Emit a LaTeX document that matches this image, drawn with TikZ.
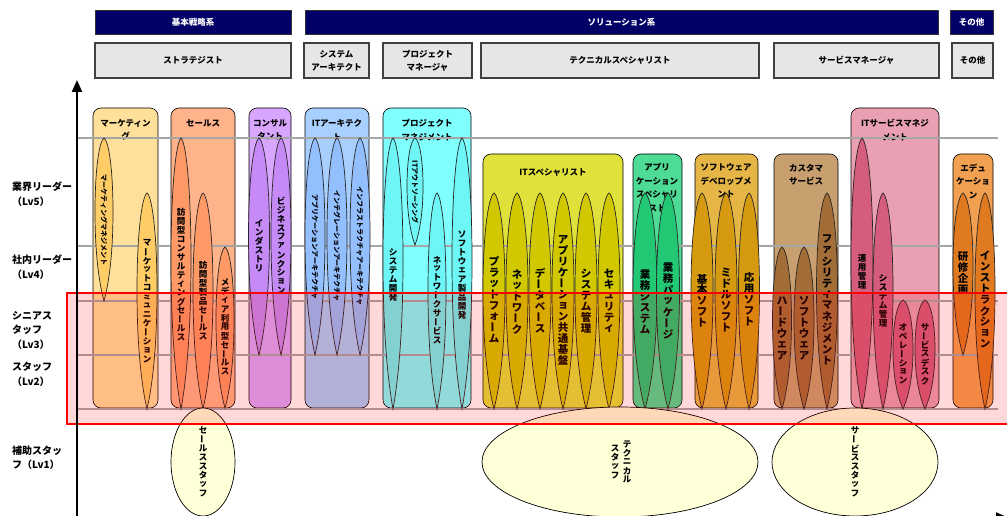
\documentclass[tikz,border=0pt]{standalone}
\usepackage{fontspec}
\setmainfont{Noto Sans CJK JP}
\usetikzlibrary{arrows.meta}

\definecolor{navy}{HTML}{000066}
\definecolor{rolegray}{HTML}{E6E6E6}
\definecolor{lvgray}{HTML}{A6A6A6}
\definecolor{staffyellow}{HTML}{FFFFD8}
\definecolor{mktbox}{HTML}{FFE09A}\definecolor{mktsp}{HTML}{FFCC66}
\definecolor{salbox}{HTML}{FFB38A}\definecolor{salsp}{HTML}{FF9966}
\definecolor{conbox}{HTML}{D9A6FF}\definecolor{consp}{HTML}{C58AF5}
\definecolor{arcbox}{HTML}{A8D0FF}\definecolor{arcsp}{HTML}{94BFFF}
\definecolor{pmbox}{HTML}{80FFFF}\definecolor{pmsp}{HTML}{6EF5F5}
\definecolor{spebox}{HTML}{E1E13C}\definecolor{spesp}{HTML}{D2C800}
\definecolor{aplbox}{HTML}{4DDB95}\definecolor{aplsp}{HTML}{22C874}
\definecolor{devbox}{HTML}{E5B545}\definecolor{devsp}{HTML}{D69A10}
\definecolor{cusbox}{HTML}{C8A070}\definecolor{cussp}{HTML}{A36D38}
\definecolor{itsbox}{HTML}{E8A0B2}\definecolor{itssp}{HTML}{D45C7C}
\definecolor{edubox}{HTML}{F0A050}\definecolor{edusp}{HTML}{E07A20}

% upright vertical text, one glyph per row
\makeatletter
\newcommand\vstack[1]{\vbox{\offinterlineskip\vst@ck#1\@nil}}
\def\vst@ck#1{\ifx#1\@nil\else\vch@r{#1}\expandafter\vst@ck\fi}
\def\vch@r#1{\hbox to 1.15em{\hss\vbox to 1.05em{\vss\hbox{\vglyph{#1}}\vss}\hss}}
\makeatother
\newcommand\vglyph[1]{\ifx ー#1\rotatebox[origin=c]{90}{ー}\else #1\fi}

% pointed column shape: x, top, bottom, half width, fill
\newcommand{\spindle}[5]{%
  \filldraw[spindleshape, fill=#5]
    (#1,#2) .. controls ({#1+0.55*#4},{#2+0.02*(#3-#2)}) and ({#1+#4},{#2+0.2*(#3-#2)}) .. ({#1+#4},{#2+0.45*(#3-#2)})
    .. controls ({#1+#4},{#2+0.75*(#3-#2)}) and ({#1+0.4*#4},{#3-0.08*(#3-#2)}) .. (#1,#3)
    .. controls ({#1-0.4*#4},{#3-0.08*(#3-#2)}) and ({#1-#4},{#2+0.75*(#3-#2)}) .. ({#1-#4},{#2+0.45*(#3-#2)})
    .. controls ({#1-#4},{#2+0.2*(#3-#2)}) and ({#1-0.55*#4},{#2+0.02*(#3-#2)}) .. (#1,#2) -- cycle;}

\tikzset{
  catbar/.style={draw=black!80, fill=navy, text=white, font=\bfseries\fontsize{8.5}{10}\selectfont, minimum height=24pt, inner sep=0pt},
  rolebox/.style={draw=black!75, line width=1.2pt, fill=rolegray, font=\bfseries\fontsize{8.5}{13}\selectfont, minimum height=35pt, align=center, inner sep=0pt},
  areabox/.style={draw=black, line width=0.6pt, rounded corners=8pt},
  arealabel/.style={font=\bfseries\fontsize{8.5}{13.5}\selectfont, align=center, inner sep=0pt},
  levelline/.style={draw=lvgray, line width=2.5pt},
  spindleshape/.style={draw=black!85, line width=0.7pt},
  sptext/.style={font=\bfseries\fontsize{10.5}{10.5}\selectfont, inner sep=0pt},
  spmid/.style={font=\bfseries\fontsize{8.5}{8.5}\selectfont, inner sep=0pt},
  sprot/.style={font=\bfseries\fontsize{7}{8}\selectfont, rotate=-90, inner sep=0pt},
  staffoval/.style={draw=black, line width=0.7pt, fill=staffyellow},
  levellabel/.style={font=\bfseries\fontsize{10}{14.5}\selectfont, align=left, anchor=west, inner sep=0pt},
  axis/.style={line width=2pt, -{Triangle[length=12pt,width=10pt]}}
}

\begin{document}
\begin{tikzpicture}[x=1pt,y=-1pt]
\useasboundingbox (0,0) rectangle (1007,516);

% job categories
\node[catbar, minimum width=196pt] (cat-basic) at (193,22) {基本戦略系};
\node[catbar, minimum width=633pt] (cat-solution) at (621.5,22) {ソリューション系};
\node[catbar, minimum width=43pt] (cat-other) at (971.5,22) {その他};
\node[rolebox, minimum width=196pt] (role-strategist) at (193,60.5) {ストラテジスト};
\node[rolebox, minimum width=65pt] (role-architect) at (336.5,60.5) {システム\\アーキテクト};
\node[rolebox, minimum width=89pt] (role-pm) at (427.5,60.5) {プロジェクト\\マネージャ};
\node[rolebox, minimum width=278pt] (role-tech) at (620,60.5) {テクニカルスペシャリスト};
\node[rolebox, minimum width=165pt] (role-service) at (856.5,60.5) {サービスマネージャ};
\node[rolebox, minimum width=41pt] (role-other) at (972.5,60.5) {その他};

% areas
\filldraw[areabox, fill=mktbox] (93,108) rectangle (158,408);
\filldraw[areabox, fill=salbox] (171,108) rectangle (235,408);
\filldraw[areabox, fill=conbox] (249,108) rectangle (291,408);
\filldraw[areabox, fill=arcbox] (305,108) rectangle (369,408);
\filldraw[areabox, fill=pmbox] (383,108) rectangle (471,408);
\filldraw[areabox, fill=spebox] (483,154) rectangle (623,408);
\filldraw[areabox, fill=aplbox] (633,154) rectangle (682,408);
\filldraw[areabox, fill=devbox] (695,154) rectangle (758,408);
\filldraw[areabox, fill=cusbox] (774,154) rectangle (838,408);
\filldraw[areabox, fill=itsbox] (851,108) rectangle (939,408);
\filldraw[areabox, fill=edubox] (953,154) rectangle (993,408);

\node[arealabel] (lab-mkt) at (125.5,130) {マーケティン\\グ};
\node[arealabel] (lab-sales) at (203,123) {セールス};
\node[arealabel] (lab-cons) at (270,130) {コンサル\\タント};
\node[arealabel] (lab-arch) at (337,130) {ITアーキテク\\ト};
\node[arealabel] (lab-pm) at (427,130) {プロジェクト\\マネジメント};
\node[arealabel] (lab-spec) at (553,173) {ITスペシャリスト};
\node[arealabel] (lab-appl) at (657,187.5) {アプリ\\ケーション\\スペシャリ\\スト};
\node[arealabel] (lab-dev) at (726,181) {ソフトウェア\\デベロップメ\\ント};
\node[arealabel] (lab-cust) at (806,174.5) {カスタマ\\サービス};
\node[arealabel] (lab-itsm) at (895,130) {ITサービスマネジ\\メント};
\node[arealabel] (lab-edu) at (973,181) {エデュ\\ケーショ\\ン};

% level lines
\foreach \y in {138,246,301,355,409}
  \draw[levelline] (77,\y) -- (998,\y);

% columns
\spindle{104}{138}{301}{9}{mktsp}
\spindle{147}{193}{409}{10}{mktsp}
\spindle{181}{138}{409}{10}{salsp}
\spindle{203}{193}{409}{10}{salsp}
\spindle{225}{247}{408}{9}{salsp}
\spindle{259}{138}{355}{10.5}{consp}
\spindle{281}{138}{355}{10}{consp}
\spindle{315}{138}{355}{10}{arcsp}
\spindle{337}{138}{355}{10}{arcsp}
\spindle{360}{138}{355}{10}{arcsp}
\spindle{393}{138}{409}{10}{pmsp}
\spindle{415}{138}{245}{8}{pmsp}
\spindle{437}{193}{409}{9}{pmsp}
\spindle{462}{138}{409}{10}{pmsp}
\spindle{494}{193}{409}{11}{spesp}
\spindle{517}{193}{409}{11}{spesp}
\spindle{540}{193}{409}{11}{spesp}
\spindle{563}{193}{409}{11}{spesp}
\spindle{586}{193}{409}{11}{spesp}
\spindle{609}{193}{409}{11}{spesp}
\spindle{645}{193}{409}{12}{aplsp}
\spindle{668}{193}{409}{11.5}{aplsp}
\spindle{702}{193}{409}{11}{devsp}
\spindle{726}{193}{409}{11}{devsp}
\spindle{749}{193}{409}{10.5}{devsp}
\spindle{782}{247}{409}{9.5}{cussp}
\spindle{804}{247}{409}{10}{cussp}
\spindle{827}{193}{409}{10.5}{cussp}
\spindle{862}{138}{409}{11}{itssp}
\spindle{883}{193}{409}{10}{itssp}
\spindle{903}{300}{409}{10}{itssp}
\spindle{925}{300}{409}{10}{itssp}
\spindle{963}{193}{355}{10}{edusp}
\spindle{985}{193}{409}{10}{edusp}

\node[sprot] (mkt-mgmt) at (104,220) {マーケティングマネジメント};
\node[spmid] (mkt-comm) at (147,301) {\vstack{マーケットコミュニケーション}};
\node[spmid] (sales-consult) at (181,275) {\vstack{訪問型コンサルティングセールス}};
\node[spmid] (sales-product) at (203,301) {\vstack{訪問型製品セールス}};
\node[spmid] (sales-media) at (225,327) {\vstack{メディア利用型セールス}};
\node[spmid] (cons-industry) at (259,246) {\vstack{インダストリ}};
\node[spmid] (cons-business) at (281,246) {\vstack{ビジネスファンクション}};
\node[sprot] (arch-app) at (315,247) {アプリケーションアーキテクチャ};
\node[sprot] (arch-integ) at (337,246) {インテグレーションアーキテクチャ};
\node[sprot] (arch-infra) at (360,246) {インフラストラクチャアーキテクチャ};
\node[spmid] (pm-dev) at (393,275) {\vstack{システム開発}};
\node[sprot] (pm-outsrc) at (415,192) {ITアウトソーシング};
\node[spmid] (pm-network) at (437,300) {\vstack{ネットワークサービス}};
\node[spmid] (pm-software) at (462,275) {\vstack{ソフトウェア製品開発}};
\node[sptext] (spec-platform) at (494,300) {\vstack{プラットフォーム}};
\node[sptext] (spec-network) at (517,302) {\vstack{ネットワーク}};
\node[sptext] (spec-db) at (540,301) {\vstack{データベース}};
\node[sptext] (spec-app) at (563,300) {\vstack{アプリケーション共通基盤}};
\node[sptext] (spec-sysmgmt) at (586,301) {\vstack{システム管理}};
\node[sptext] (spec-security) at (609,301) {\vstack{セキュリティ}};
\node[sptext] (appl-system) at (645,302) {\vstack{業務システム}};
\node[sptext] (appl-package) at (668,301) {\vstack{業務パッケージ}};
\node[sptext] (dev-basic) at (702,301) {\vstack{基本ソフト}};
\node[sptext] (dev-middle) at (726,300) {\vstack{ミドルソフト}};
\node[sptext] (dev-app) at (749,300) {\vstack{応用ソフト}};
\node[sptext] (cust-hard) at (782,328) {\vstack{ハードウェア}};
\node[sptext] (cust-soft) at (804,328) {\vstack{ソフトウェア}};
\node[sptext] (cust-facility) at (827,300) {\vstack{ファシリティマネジメント}};
\node[spmid] (itsm-ops) at (862,272) {\vstack{運用管理}};
\node[spmid] (itsm-sys) at (883,301) {\vstack{システム管理}};
\node[spmid] (itsm-operation) at (903,354) {\vstack{オペレーション}};
\node[spmid] (itsm-desk) at (925,354) {\vstack{サービスデスク}};
\node[sptext] (edu-plan) at (963,273) {\vstack{研修企画}};
\node[sptext] (edu-instr) at (985,300) {\vstack{インストラクション}};

% support staff
\filldraw[staffoval] (203,462) ellipse [x radius=32, y radius=54];
\filldraw[staffoval] (620,462) ellipse [x radius=138, y radius=55];
\filldraw[staffoval] (855,462) ellipse [x radius=83, y radius=54];
\node[spmid] (staff-sales) at (203,462) {\vstack{セールススタッフ}};
\node[spmid] (staff-tech-a) at (627,462) {\vstack{テクニカル}};
\node[spmid] (staff-tech-b) at (615,462) {\vstack{スタッフ}};
\node[spmid] (staff-service) at (855,462) {\vstack{サービススタッフ}};

% target band
\filldraw[draw=red, line width=2pt, fill=red, fill opacity=0.15] (67,293) rectangle (1012,424);

% axes
\draw[axis] (77,518) -- (77,80);
\draw[axis] (77,517.5) -- (1008,517.5);

\node[levellabel] (lv5) at (12,194) {業界リーダー\\（Lv5）};
\node[levellabel] (lv4) at (12,267) {社内リーダー\\（Lv4）};
\node[levellabel] (lv3) at (12,330) {シニアス\\タッフ\\（Lv3）};
\node[levellabel] (lv2) at (12,374.5) {スタッフ\\（Lv2）};
\node[levellabel] (lv1) at (12,457.5) {補助スタッ\\フ（Lv1）};
\end{tikzpicture}
\end{document}
